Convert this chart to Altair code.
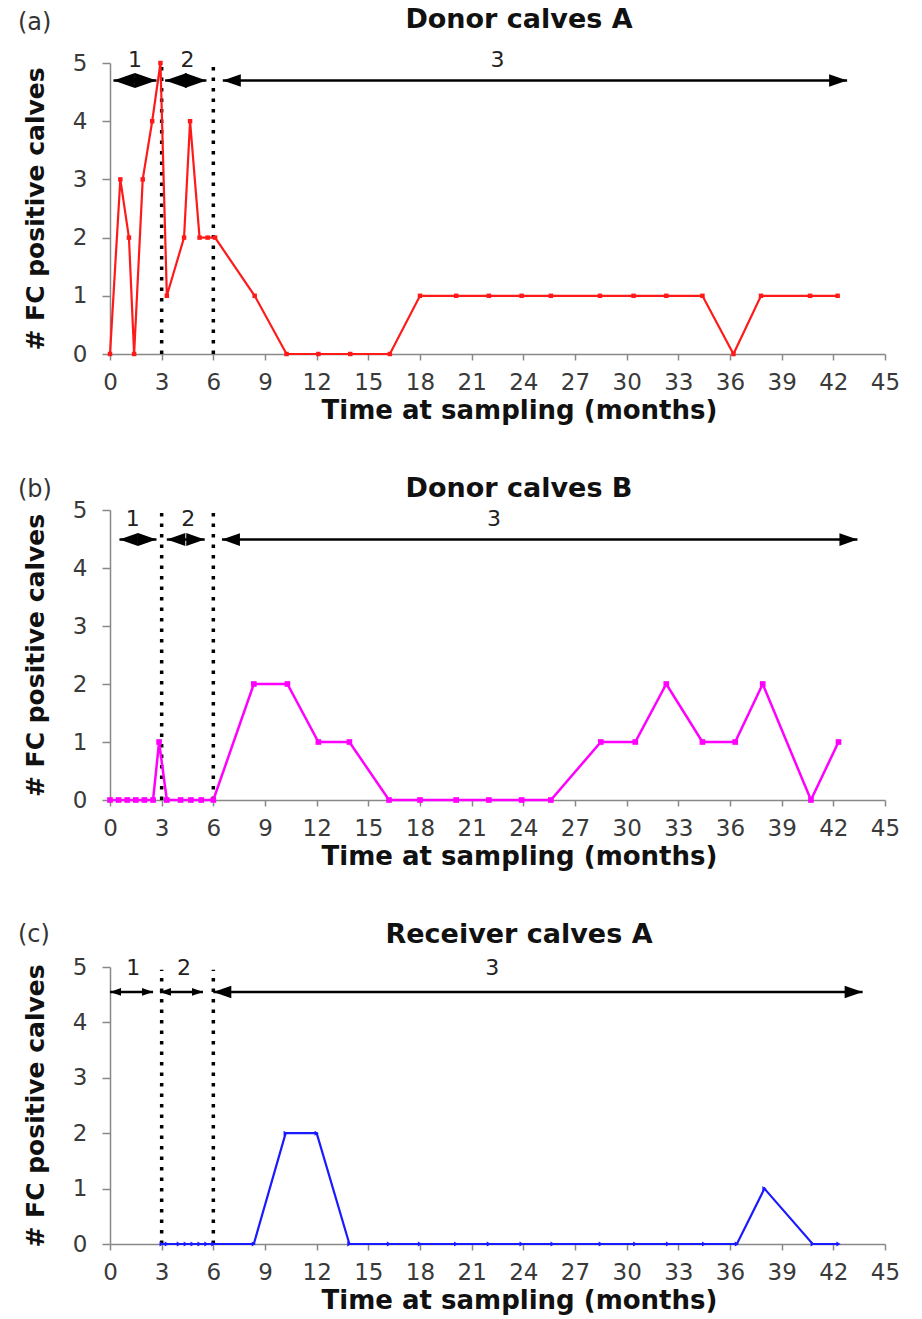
import altair as alt
import pandas as pd

FONT = "DejaVu Sans"

# ---------------- data ----------------
X_TICKS = list(range(0, 46, 3))
Y_TICKS = [0, 1, 2, 3, 4, 5]
PHASE_BOUNDS = [3, 6]

A_months = [0, 0.6, 1.1, 1.4, 1.9, 2.45, 2.93, 3.3, 4.3, 4.65, 5.2, 5.67, 6.1,
            8.4, 10.25, 12.1, 13.95, 16.25, 18.0, 20.1, 22.0, 23.9, 25.6,
            28.45, 30.4, 32.3, 34.4, 36.2, 37.8, 40.65, 42.25]
A_counts = [0, 3, 2, 0, 3, 4, 5, 1, 2, 4, 2, 2, 2,
            1, 0, 0, 0, 0, 1, 1, 1, 1, 1,
            1, 1, 1, 1, 0, 1, 1, 1]

B_months = [0, 0.5, 1.0, 1.5, 2.0, 2.5, 2.85, 3.3, 4.1, 4.7, 5.3, 6.0,
            8.35, 10.3, 12.1, 13.9, 16.2, 18.0, 20.1, 22.0, 23.9, 25.6,
            28.5, 30.5, 32.3, 34.4, 36.3, 37.9, 40.7, 42.3]
B_counts = [0, 0, 0, 0, 0, 0, 1, 0, 0, 0, 0, 0,
            2, 2, 1, 1, 0, 0, 0, 0, 0, 0,
            1, 1, 2, 1, 1, 2, 0, 1]

C_months = [3.0, 3.3, 4.0, 4.4, 4.8, 5.2, 5.6, 6.0, 8.35, 10.2, 12.0, 13.9,
            16.2, 18.0, 20.1, 22.0, 23.9, 25.7, 28.5, 30.5, 32.4, 34.5, 36.4,
            38.0, 40.8, 42.3]
C_counts = [0, 0, 0, 0, 0, 0, 0, 0, 0, 2, 2, 0,
            0, 0, 0, 0, 0, 0, 0, 0, 0, 0, 0,
            1, 0, 0]

PHASE_LABELS = ["1", "2", "3"]
A_arrow_start = [0.2, 3.2, 6.55]
A_arrow_end = [2.7, 5.6, 42.8]
A_arrow_level = 4.7
A_label_x = [1.45, 4.5, 22.5]
A_label_level = 5.05

B_arrow_start = [0.55, 3.3, 6.5]
B_arrow_end = [2.7, 5.5, 43.4]
B_arrow_level = 4.49
B_label_x = [1.32, 4.55, 22.3]
B_label_level = 4.84

C_arrow_start = [0.0, 2.9, 6.0]
C_arrow_end = [2.5, 5.4, 43.7]
C_arrow_level = 4.55
C_label_x = [1.35, 4.3, 22.2]
C_label_level = 4.98

# ---------------- styling ----------------
LEFT_HEAD = "M0,0L2,-0.7L2,0.7Z"
RIGHT_HEAD = "M0,0L-2,-0.7L-2,0.7Z"
W = 775


def xenc(field):
    return alt.X(field, type="quantitative",
                 scale=alt.Scale(domain=[0, 45], nice=False, zero=False),
                 axis=alt.Axis(values=X_TICKS, title="Time at sampling (months)",
                               titleX=409, labelFlush=False))


def yenc(field):
    return alt.Y(field, type="quantitative",
                 scale=alt.Scale(domain=[0, 5], nice=False),
                 axis=alt.Axis(values=Y_TICKS, title="# FC positive calves",
                               labelFlush=False))


def panel(tag, title, months, counts, color, shape, msize, lw,
          a_start, a_end, a_level, l_x, l_level, heads, height,
          title_dy, tag_dy):
    data = pd.DataFrame({"m": months, "c": counts})
    line = alt.Chart(data).mark_line(color=color, strokeWidth=lw).encode(
        x=xenc("m"), y=yenc("c"))
    pts = alt.Chart(data).mark_point(shape=shape, filled=True, color=color,
                                     size=msize, opacity=1).encode(
        x=xenc("m"), y=yenc("c"))

    dots = pd.DataFrame({"px": PHASE_BOUNDS, "lo": [0, 0], "hi": [4.95, 4.95]})
    rules = alt.Chart(dots).mark_rule(color="black", strokeWidth=3.5,
                                      strokeDash=[3.5, 7]).encode(
        x=xenc("px"), y=yenc("lo"), y2="hi")

    arr = pd.DataFrame({"x1": a_start, "x2": a_end,
                        "yl": [a_level] * 3, "hs": heads})
    shafts = alt.Chart(arr).mark_rule(color="black", strokeWidth=2.5).encode(
        x=xenc("x1"), x2="x2", y=yenc("yl"))
    lh = alt.Chart(arr).mark_point(shape=LEFT_HEAD, filled=True, color="black",
                                   opacity=1, strokeWidth=0).encode(
        x=xenc("x1"), y=yenc("yl"), size=alt.Size("hs:Q", scale=None))
    rh = alt.Chart(arr).mark_point(shape=RIGHT_HEAD, filled=True, color="black",
                                   opacity=1, strokeWidth=0).encode(
        x=xenc("x2"), y=yenc("yl"), size=alt.Size("hs:Q", scale=None))

    labs = pd.DataFrame({"lx": l_x, "ly": [l_level] * 3, "t": PHASE_LABELS})
    ltext = alt.Chart(labs).mark_text(font=FONT, fontSize=22, color="#222",
                                      baseline="middle").encode(
        x=xenc("lx"), y=yenc("ly"), text="t:N")

    head = pd.DataFrame({"tag": [tag], "title": [title]})
    tagtext = alt.Chart(head).mark_text(font=FONT, fontSize=24, color="#333",
                                        align="left", baseline="middle").encode(
        x=alt.value(-92), y=alt.value(tag_dy), text="tag:N")
    ttext = alt.Chart(head).mark_text(font=FONT, fontSize=27, fontWeight="bold",
                                      color="#111", align="center",
                                      baseline="middle").encode(
        x=alt.value(409), y=alt.value(title_dy), text="title:N")

    return alt.layer(rules, shafts, lh, rh, line, pts, ltext, tagtext, ttext
                     ).properties(width=W, height=height)


pa = panel("(a)", "Donor calves A", A_months, A_counts, "#ff1a1a", "square",
           20, 2.2, A_arrow_start, A_arrow_end, A_arrow_level, A_label_x,
           A_label_level, [462, 462, 324], 291, -43, -40)
pb = panel("(b)", "Donor calves B", B_months, B_counts, "#ff00ff", "square",
           32, 2.5, B_arrow_start, B_arrow_end, B_arrow_level, B_label_x,
           B_label_level, [342, 342, 324], 290, -21, -20)
pc = panel("(c)", "Receiver calves A", C_months, C_counts, "#1a1aff",
           "triangle-right", 24, 2.2, C_arrow_start, C_arrow_end, C_arrow_level,
           C_label_x, C_label_level, [121, 121, 324], 277, -32, -32)

chart = alt.vconcat(pa, pb, pc, spacing=52).properties(
    padding={"left": 18, "top": 6, "right": 5, "bottom": 2}
).configure_view(stroke=None).configure_axis(
    grid=False,
    domainColor="#888", domainWidth=1.5,
    tickColor="#888", tickWidth=1.5,
    labelFont=FONT, labelFontSize=23, labelColor="#3a3a3a",
    titleFont=FONT, titleFontWeight="bold", titleColor="#111",
).configure_axisX(
    tickSize=6, labelPadding=11, titleFontSize=26, titlePadding=3,
).configure_axisY(
    tickSize=8, labelPadding=15, titleFontSize=25, titlePadding=24,
)

chart.save("out.html", embed_options={"renderer": "svg", "actions": False})
